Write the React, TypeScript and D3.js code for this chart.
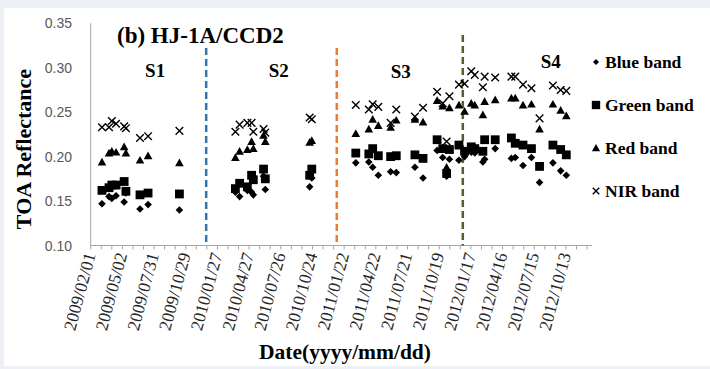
import { useRef, useEffect } from "react";
import * as d3 from "d3";

// acquisition dates
const dates = [
  "2009-03-05", "2009-03-25", "2009-04-02", "2009-04-14", "2009-05-07", "2009-05-12", "2009-06-21", "2009-07-14", "2009-10-11",
  "2010-03-19", "2010-03-31", "2010-04-22", "2010-05-04", "2010-05-09", "2010-06-07", "2010-06-12", "2010-10-16", "2010-10-22",
  "2011-02-24", "2011-04-02", "2011-04-13", "2011-04-29", "2011-06-03", "2011-06-19", "2011-08-11", "2011-09-03", "2011-10-13",
  "2011-10-29", "2011-11-09", "2011-11-17", "2011-12-14", "2011-12-30", "2012-01-18", "2012-01-28", "2012-02-20", "2012-02-25",
  "2012-03-26", "2012-05-11", "2012-05-22", "2012-06-13", "2012-07-07", "2012-07-30", "2012-09-06", "2012-09-28", "2012-10-14",
];

const blueBand = [
  0.147, 0.155, 0.153, 0.156, 0.149, 0.159, 0.141, 0.146, 0.140,
  0.160, 0.155, 0.162, 0.160, 0.157, 0.178, 0.163, 0.166, 0.176,
  0.193, 0.194, 0.188, 0.179, 0.183, 0.182, 0.188, 0.176, 0.207,
  0.199, 0.178, 0.197, 0.196, 0.200, 0.205, 0.204, 0.194, 0.197,
  0.209, 0.198, 0.199, 0.190, 0.199, 0.171, 0.193, 0.184, 0.179,
];
const greenBand = [
  0.162, 0.165, 0.168, 0.168, 0.172, 0.161, 0.157, 0.159, 0.158,
  0.164, 0.170, 0.166, 0.179, 0.174, 0.186, 0.175, 0.179, 0.186,
  0.204, 0.203, 0.209, 0.201, 0.200, 0.201, 0.202, 0.198, 0.219,
  0.209, 0.181, 0.208, 0.213, 0.206, 0.211, 0.209, 0.206, 0.219,
  0.219, 0.221, 0.215, 0.213, 0.209, 0.189, 0.213, 0.208, 0.202,
];
const redBand = [
  0.194, 0.204, 0.206, 0.205, 0.211, 0.204, 0.196, 0.201, 0.193,
  0.199, 0.206, 0.208, 0.217, 0.209, 0.224, 0.217, 0.216, 0.218,
  0.226, 0.231, 0.242, 0.235, 0.233, 0.241, 0.242, 0.239, 0.263,
  0.257, 0.188, 0.255, 0.258, 0.251, 0.260, 0.258, 0.247, 0.262,
  0.264, 0.266, 0.266, 0.258, 0.259, 0.231, 0.259, 0.252, 0.246,
];
const nirBand = [
  0.233, 0.233, 0.240, 0.237, 0.234, 0.232, 0.221, 0.223, 0.229,
  0.228, 0.236, 0.238, 0.238, 0.228, 0.231, 0.227, 0.244, 0.242,
  0.258, 0.253, 0.259, 0.256, 0.238, 0.253, 0.245, 0.255, 0.273,
  0.260, 0.217, 0.268, 0.281, 0.282, 0.296, 0.292, 0.278, 0.290,
  0.289, 0.290, 0.290, 0.281, 0.277, 0.243, 0.280, 0.275, 0.274,
];

const yTicks = [0.1, 0.15, 0.2, 0.25, 0.3, 0.35];
const axisStart = "2009-02-01";
const axisEnd = "2012-12-26";
const dividers = [
  { date: "2009-12-26", color: "#2e75b6" },
  { date: "2011-01-01", color: "#ed7d31" },
  { date: "2011-12-25", color: "#4f6228" },
];
const stages = [
  { label: "S1", date: "2009-08-03", value: 0.2895 },
  { label: "S2", date: "2010-07-20", value: 0.2895 },
  { label: "S3", date: "2011-07-02", value: 0.289 },
  { label: "S4", date: "2012-08-31", value: 0.2997 },
];
const legendItems = ["Blue band", "Green band", "Red band", "NIR band"];

const parse = d3.utcParse("%Y-%m-%d");
const fmt = d3.utcFormat("%Y/%m/%d");

type Shape = "diamond" | "square" | "triangle" | "cross";

function drawMarker(
  g: d3.Selection<SVGGElement, unknown, null, undefined>,
  shape: Shape,
  cx: number,
  cy: number,
  s = 1
) {
  if (shape === "diamond") {
    const r = 3.8 * s;
    g.append("path")
      .attr("d", `M${cx},${cy - r}L${cx + r},${cy}L${cx},${cy + r}L${cx - r},${cy}Z`)
      .attr("fill", "#000");
  } else if (shape === "square") {
    const h = 4.4 * s;
    g.append("rect")
      .attr("x", cx - h)
      .attr("y", cy - h)
      .attr("width", 2 * h)
      .attr("height", 2 * h)
      .attr("fill", "#000");
  } else if (shape === "triangle") {
    const w = 4.3 * s;
    g.append("path")
      .attr("d", `M${cx},${cy - w}L${cx + w},${cy + w * 0.8}L${cx - w},${cy + w * 0.8}Z`)
      .attr("fill", "#000");
  } else {
    const r = 3.8 * s;
    g.append("path")
      .attr("d", `M${cx - r},${cy - r}L${cx + r},${cy + r}M${cx + r},${cy - r}L${cx - r},${cy + r}`)
      .attr("stroke", "#000")
      .attr("stroke-width", 1.4)
      .attr("fill", "none");
  }
}

export default function App() {
  const svgRef = useRef<SVGSVGElement>(null);

  useEffect(() => {
    if (!svgRef.current) return;
    const svg = d3.select(svgRef.current);
    svg.selectAll("*").remove();

    const width = 710;
    const height = 369;

    // page frame
    svg.append("rect").attr("width", width).attr("height", height).attr("fill", "#edf1f6");
    svg.append("rect").attr("x", 4).attr("y", 8).attr("width", width - 4).attr("height", 358).attr("fill", "#fff");

    const x = d3.scaleUtc().domain([parse(axisStart)!, parse(axisEnd)!]).range([90.7, 592]);
    const y = d3.scaleLinear().domain([0.1, 0.35]).range([245.5, 23.3]);

    const g = svg.append("g") as unknown as d3.Selection<SVGGElement, unknown, null, undefined>;

    // axes lines
    g.append("line")
      .attr("x1", x.range()[0]).attr("x2", x.range()[0])
      .attr("y1", y(0.35)).attr("y2", y(0.1))
      .attr("stroke", "#a6a6a6").attr("stroke-width", 1);
    g.append("line")
      .attr("x1", x.range()[0]).attr("x2", x.range()[1])
      .attr("y1", y(0.1)).attr("y2", y(0.1))
      .attr("stroke", "#a6a6a6").attr("stroke-width", 1);

    // x ticks every 30 days, labels every 90 days
    const start = parse(axisStart)!;
    const end = parse(axisEnd)!;
    const minor = d3.utcDay.every(1)!.range(start, end).filter((_, i) => i % 30 === 0);
    g.selectAll(".xtick")
      .data(minor)
      .join("line")
      .attr("x1", (d) => x(d)).attr("x2", (d) => x(d))
      .attr("y1", y(0.1)).attr("y2", y(0.1) + 4)
      .attr("stroke", "#a6a6a6");
    const major = minor.filter((_, i) => i % 3 === 0);
    g.selectAll(".xlab")
      .data(major)
      .join("text")
      .attr("transform", (d) => `translate(${x(d) + 5},${y(0.1) + 9}) rotate(-75)`)
      .attr("text-anchor", "end")
      .attr("font-family", "Liberation Serif, Times New Roman, serif")
      .attr("font-size", 17.5)
      .attr("fill", "#262626")
      .text((d) => fmt(d));

    // y tick labels
    g.selectAll(".ylab")
      .data(yTicks)
      .join("text")
      .attr("x", 72)
      .attr("y", (d) => y(d) + 5)
      .attr("text-anchor", "end")
      .attr("font-family", "Liberation Sans, Arial, sans-serif")
      .attr("font-size", 14)
      .attr("fill", "#595959")
      .text((d) => d.toFixed(2));

    // stage dividers
    dividers.forEach((dv, i) => {
      g.append("line")
        .attr("x1", x(parse(dv.date)!)).attr("x2", x(parse(dv.date)!))
        .attr("y1", i === 2 ? 35 : 48).attr("y2", y(0.1))
        .attr("stroke", dv.color)
        .attr("stroke-width", 2.5)
        .attr("stroke-dasharray", "7 4");
    });

    // data points
    const series: { vals: number[]; shape: Shape }[] = [
      { vals: blueBand, shape: "diamond" },
      { vals: greenBand, shape: "square" },
      { vals: redBand, shape: "triangle" },
      { vals: nirBand, shape: "cross" },
    ];
    series.forEach((s) => {
      s.vals.forEach((v, i) => drawMarker(g, s.shape, x(parse(dates[i])!), y(v)));
    });

    // stage labels
    stages.forEach((s) => {
      g.append("text")
        .attr("x", x(parse(s.date)!))
        .attr("y", y(s.value))
        .attr("text-anchor", "middle")
        .attr("font-family", "Liberation Serif, Times New Roman, serif")
        .attr("font-weight", "bold")
        .attr("font-size", 19)
        .text(s.label);
    });

    // title
    g.append("text")
      .attr("x", 117)
      .attr("y", 43)
      .attr("font-family", "Liberation Serif, Times New Roman, serif")
      .attr("font-weight", "bold")
      .attr("font-size", 23)
      .text("(b) HJ-1A/CCD2");

    // axis titles
    g.append("text")
      .attr("transform", `translate(31,149) rotate(-90)`)
      .attr("text-anchor", "middle")
      .attr("font-family", "Liberation Serif, Times New Roman, serif")
      .attr("font-weight", "bold")
      .attr("font-size", 22)
      .text("TOA Reflectance");
    g.append("text")
      .attr("x", 345)
      .attr("y", 359)
      .attr("text-anchor", "middle")
      .attr("font-family", "Liberation Serif, Times New Roman, serif")
      .attr("font-weight", "bold")
      .attr("font-size", 21.5)
      .text("Date(yyyy/mm/dd)");

    // legend
    const shapes: Shape[] = ["diamond", "square", "triangle", "cross"];
    legendItems.forEach((label, i) => {
      const cy = 62 + i * 43;
      drawMarker(g, shapes[i], 596, cy, i === 0 ? 0.8 : i === 3 ? 0.85 : 0.95);
      g.append("text")
        .attr("x", 605)
        .attr("y", cy + 6)
        .attr("font-family", "Liberation Serif, Times New Roman, serif")
        .attr("font-weight", "bold")
        .attr("font-size", 17.5)
        .text(label);
    });
  }, []);

  return (
    <svg
      ref={svgRef}
      width={710}
      height={369}
      style={{ position: "fixed", left: 0, top: 0, display: "block" }}
    />
  );
}
